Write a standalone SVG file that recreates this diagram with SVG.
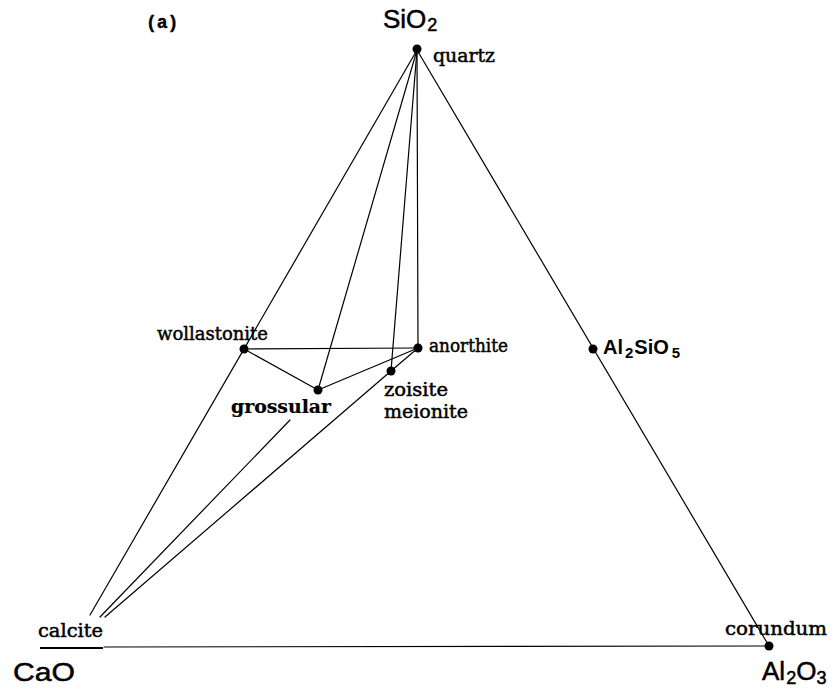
<svg xmlns="http://www.w3.org/2000/svg" width="837" height="691" viewBox="0 0 837 691">
<style>
.ln{stroke:#000;stroke-width:1.2;fill:none;stroke-linecap:round}
.dot{fill:#000}
.lbl{font-family:"DejaVu Serif","Liberation Serif",serif;font-size:19px;font-stretch:condensed;fill:#000;stroke:#000;stroke-width:0.45}
.bold{font-weight:bold;stroke-width:0.2}
.ox{font-family:"Liberation Sans",Arial,sans-serif;font-size:26px;fill:#000;stroke:#000;stroke-width:0.5}
.oxb{font-family:"Liberation Sans",Arial,sans-serif;font-size:20px;font-weight:bold;fill:#000}
.sub{font-size:18px}
.subs{font-size:15px}
</style>
<rect width="837" height="691" fill="#fff"/>
<g id="connectors">
<line class="ln" x1="417" y1="50" x2="769" y2="646"/>
<line class="ln" x1="417" y1="50" x2="90" y2="615"/>
<line class="ln" x1="417" y1="50" x2="318" y2="390"/>
<line class="ln" x1="417" y1="50" x2="391" y2="371"/>
<line class="ln" x1="417" y1="50" x2="418" y2="348"/>
<line class="ln" x1="244" y1="349" x2="418" y2="348"/>
<line class="ln" x1="244" y1="349" x2="318" y2="390"/>
<line class="ln" x1="318" y1="390" x2="418" y2="348"/>
<line class="ln" x1="391" y1="371" x2="418" y2="348"/>
<line class="ln" x1="100" y1="617" x2="290" y2="420"/>
<line class="ln" x1="105" y1="617" x2="391" y2="371"/>
<line class="ln" x1="104" y1="647" x2="769" y2="646"/>
<line x1="40" y1="648" x2="103" y2="648" stroke="#000" stroke-width="2.2"/>
</g>
<g id="quartz"><circle class="dot" cx="417" cy="49" r="4.5"/><text class="lbl" x="433" y="62" textLength="62" lengthAdjust="spacingAndGlyphs">quartz</text></g>
<g id="wollastonite"><circle class="dot" cx="244" cy="349" r="4.5"/><text class="lbl" x="157" y="340" textLength="111" lengthAdjust="spacingAndGlyphs">wollastonite</text></g>
<g id="anorthite"><circle class="dot" cx="418" cy="348" r="4.5"/><text class="lbl" x="429" y="352" textLength="79" lengthAdjust="spacingAndGlyphs">anorthite</text></g>
<g id="grossular"><circle class="dot" cx="318" cy="390" r="4.5"/><text class="lbl bold" x="231" y="413" textLength="100" lengthAdjust="spacingAndGlyphs">grossular</text></g>
<g id="zoisite"><circle class="dot" cx="391" cy="371" r="4.5"/><text class="lbl" x="384" y="396" textLength="64" lengthAdjust="spacingAndGlyphs">zoisite</text><text class="lbl" x="384" y="418" textLength="84" lengthAdjust="spacingAndGlyphs">meionite</text></g>
<g id="al2sio5"><circle class="dot" cx="593" cy="349" r="4.5"/><text class="oxb" x="603" y="354">Al<tspan class="subs" dy="4" dx="2">2</tspan><tspan dy="-4" dx="1">SiO</tspan><tspan class="subs" dy="4" dx="3">5</tspan></text></g>
<g id="calcite"><text class="lbl" x="38" y="637" textLength="65" lengthAdjust="spacingAndGlyphs">calcite</text></g>
<g id="corundum"><circle class="dot" cx="769" cy="646" r="4.5"/><text class="lbl" x="725" y="635" textLength="102" lengthAdjust="spacingAndGlyphs">corundum</text></g>
<g id="sio2"><text class="ox" x="383" y="28">SiO<tspan class="sub" dy="3" dx="1">2</tspan></text></g>
<g id="cao"><text class="ox" x="13" y="681" font-size="27" textLength="62" lengthAdjust="spacingAndGlyphs">CaO</text></g>
<g id="al2o3"><text class="ox" x="762" y="680" font-size="27">Al<tspan class="sub" dy="4" dx="1">2</tspan><tspan dy="-4">O</tspan><tspan class="sub" dy="4">3</tspan></text></g>
<g id="label-a"><text x="146" y="28" font-family="'Liberation Mono',monospace" font-weight="bold" font-size="18" stroke="#000" stroke-width="0.4">(a)</text></g>
</svg>
